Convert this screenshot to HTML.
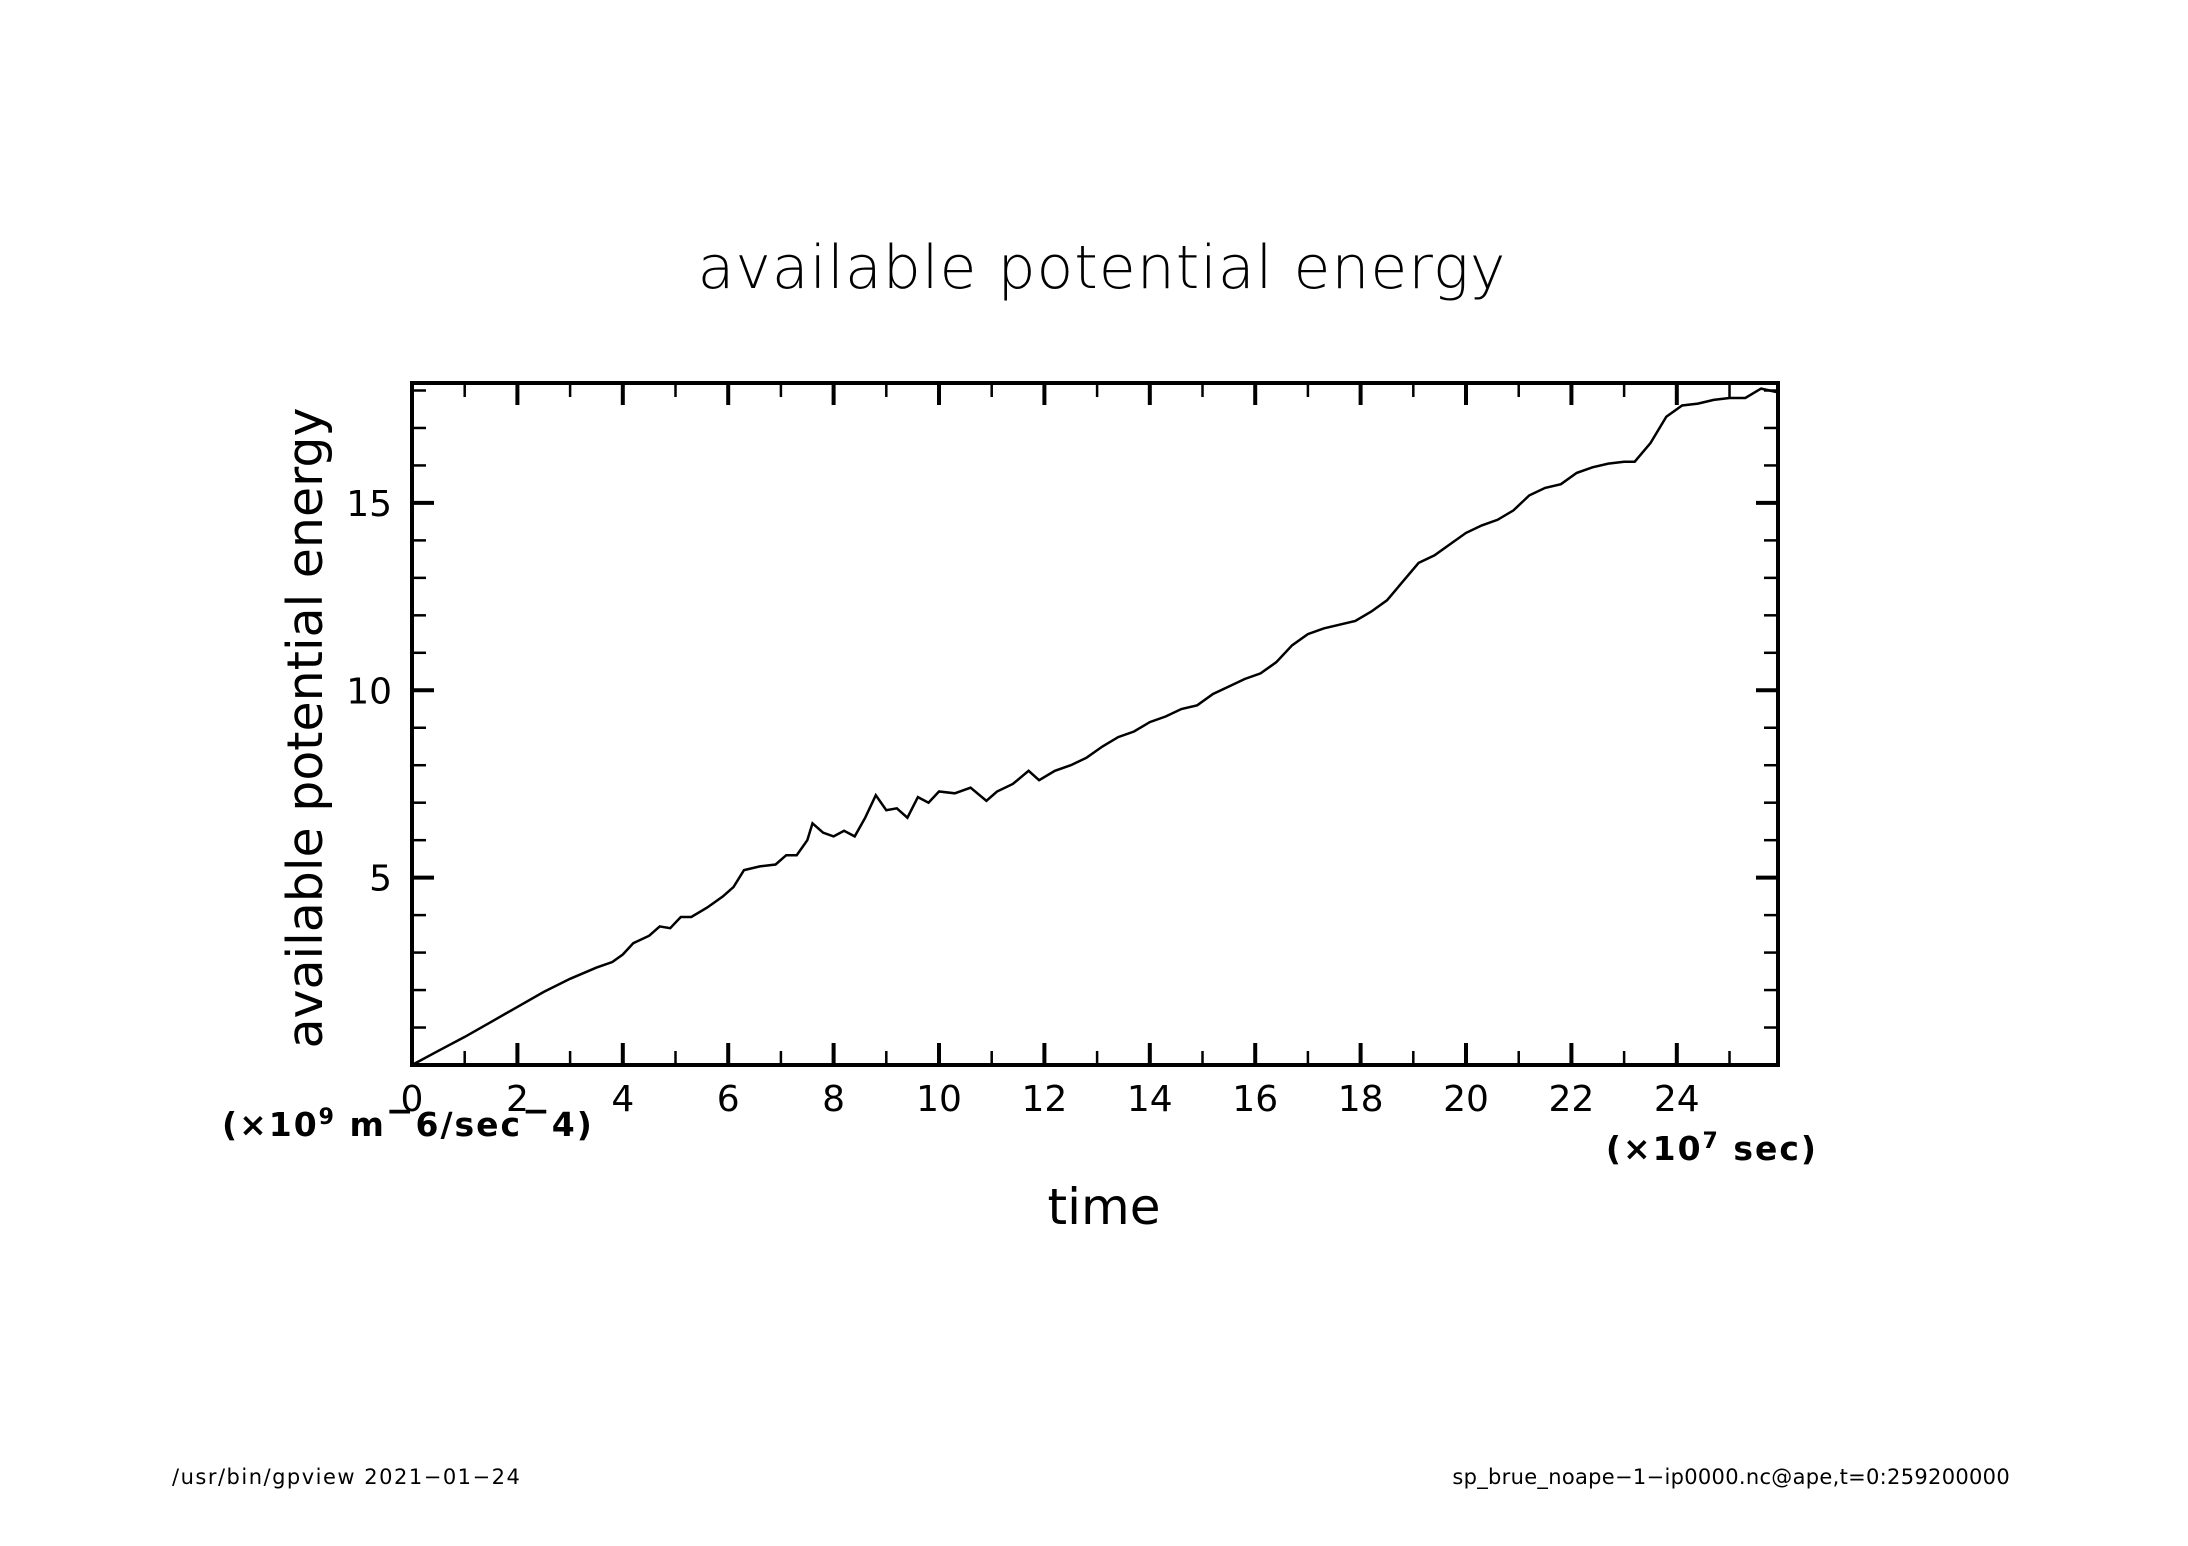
<!DOCTYPE html>
<html><head><meta charset="utf-8"><style>
html,body{margin:0;padding:0;background:#fff;}
svg{display:block;font-family:"DejaVu Sans","Liberation Sans",sans-serif;}
</style></head><body>
<svg id="chart" width="2188" height="1546" viewBox="0 0 2188 1546" xmlns="http://www.w3.org/2000/svg">
<rect width="2188" height="1546" fill="#fff"/>
<text x="1102" y="288" font-size="60" text-anchor="middle" font-weight="300" letter-spacing="1">available  potential  energy</text>
<text x="1104" y="1224" font-size="50" text-anchor="middle">time</text>
<text transform="translate(322,728) rotate(-90)" font-size="49" text-anchor="middle">available  potential  energy</text>
<text x="222" y="1136" font-size="33" font-weight="bold" letter-spacing="2">(×10<tspan font-size="22" dy="-12">9</tspan><tspan dy="12"> m</tspan><tspan dy="-14">−</tspan><tspan dy="14">6/sec</tspan><tspan dy="-14">−</tspan><tspan dy="14">4)</tspan></text>
<text x="1818" y="1160" font-size="33" font-weight="bold" text-anchor="end" letter-spacing="2">(×10<tspan font-size="22" dy="-12">7</tspan><tspan dy="12"> sec)</tspan></text>
<text x="172" y="1484" font-size="21" letter-spacing="1.5">/usr/bin/gpview  2021−01−24</text>
<text x="2010" y="1484" font-size="21" text-anchor="end" letter-spacing="0.3">sp_brue_noape−1−ip0000.nc@ape,t=0:259200000</text>
<g id="ticks"></g>
<g id="series"></g>
<rect x="412" y="383" width="1366" height="682" fill="none" stroke="#000" stroke-width="4"/>
</svg>
<script>
const xMin = 0, xMax = 25.92, yMin = 0, yMax = 18.2;
const xTickLabels = ["0","2","4","6","8","10","12","14","16","18","20","22","24"];
const yTickLabels = ["5","10","15"];
const times = [0,0.5,1,1.5,2,2.5,3,3.5,3.8,4,4.2,4.5,4.7,4.9,5.1,5.3,5.6,5.9,6.1,6.3,6.6,6.9,7.1,7.3,7.5,7.6,7.8,8,8.2,8.4,8.6,8.8,9,9.2,9.4,9.6,9.8,10,10.3,10.6,10.9,11.1,11.4,11.7,11.9,12.2,12.5,12.8,13.1,13.4,13.7,14,14.3,14.6,14.9,15.2,15.5,15.8,16.1,16.4,16.7,17,17.3,17.6,17.9,18.2,18.5,18.8,19.1,19.4,19.7,20,20.3,20.6,20.9,21.2,21.5,21.8,22.1,22.4,22.7,23,23.2,23.5,23.8,24.1,24.4,24.7,25,25.3,25.6,25.92];
const energy = [0,0.38,0.75,1.15,1.55,1.95,2.3,2.6,2.75,2.95,3.25,3.45,3.7,3.65,3.95,3.95,4.2,4.5,4.75,5.2,5.3,5.35,5.6,5.6,6.0,6.45,6.2,6.1,6.25,6.1,6.6,7.2,6.8,6.85,6.6,7.15,7.0,7.3,7.25,7.4,7.05,7.3,7.5,7.85,7.6,7.85,8.0,8.2,8.5,8.75,8.9,9.15,9.3,9.5,9.6,9.9,10.1,10.3,10.45,10.75,11.2,11.5,11.65,11.75,11.85,12.1,12.4,12.9,13.4,13.6,13.9,14.2,14.4,14.55,14.8,15.2,15.4,15.5,15.8,15.95,16.05,16.1,16.1,16.6,17.3,17.6,17.65,17.75,17.8,17.8,18.05,17.95];
const L=412,R=1778,T=383,B=1065;
const xs = v => L + (v - xMin) / (xMax - xMin) * (R - L);
const ys = v => B - (v - yMin) / (yMax - yMin) * (B - T);
const NS = "http://www.w3.org/2000/svg";
const tg = document.getElementById("ticks");
function line(x1,y1,x2,y2,w){const l=document.createElementNS(NS,"line");l.setAttribute("x1",x1);l.setAttribute("y1",y1);l.setAttribute("x2",x2);l.setAttribute("y2",y2);l.setAttribute("stroke","#000");l.setAttribute("stroke-width",w);tg.appendChild(l);return l;}
for(let v=1;v<=25;v++){
  const major = v%2===0, len = major?22:14, w = major?4:2.5, x = xs(v);
  const a=line(x,B,x,B-len,w);
  
  
  const b=line(x,T,x,T+len,w);
  
  
}
for(let v=1;v<=18;v++){
  const major = v%5===0, len = major?22:14, w = major?4:2.5, y = ys(v);
  const a=line(L,y,L+len,y,w);
  
  
  const b=line(R,y,R-len,y,w);
  
  
}
xTickLabels.forEach(s=>{
  const t=document.createElementNS(NS,"text");
  
  
  t.setAttribute("x",xs(parseFloat(s)));t.setAttribute("y",1122);
  t.setAttribute("font-size","36");t.setAttribute("text-anchor","middle");
  t.setAttribute("y",1111);
  t.textContent=s;tg.appendChild(t);
});
yTickLabels.forEach(s=>{
  const t=document.createElementNS(NS,"text");
  
  
  t.setAttribute("x",392);t.setAttribute("y",ys(parseFloat(s))+13);
  t.setAttribute("font-size","36");t.setAttribute("text-anchor","end");
  t.textContent=s;tg.appendChild(t);
});
const p=document.createElementNS(NS,"polyline");


p.setAttribute("points",times.map((t,i)=>xs(t).toFixed(1)+","+ys(energy[i]).toFixed(1)).join(" "));
p.setAttribute("fill","none");p.setAttribute("stroke","#000");p.setAttribute("stroke-width","2.5");
document.getElementById("series").appendChild(p);
</script>
</body></html>
